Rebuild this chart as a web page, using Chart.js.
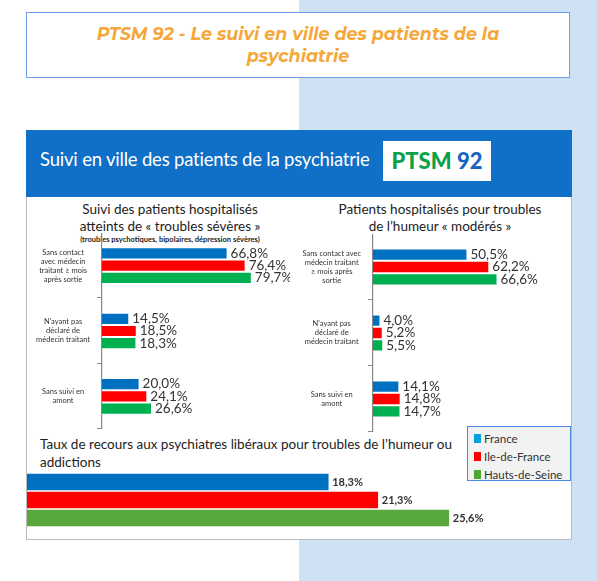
<!DOCTYPE html>
<html><head><meta charset="utf-8">
<script src="https://cdn.jsdelivr.net/npm/chart.js@4"></script>
<style>
body{margin:0;width:597px;height:581px;position:relative;overflow:hidden;background:#fff;font-family:Lato,"Open Sans",sans-serif}
.abs{position:absolute}
</style></head><body>
<div class="abs" style="left:299px;top:0;width:298px;height:581px;background:#cfe2f3"></div>
<div class="abs" style="left:26px;top:12px;width:544px;height:66px;background:#fff;border:1.5px solid #6d9eeb;text-align:center;color:#f6a73a;font-weight:bold;font-style:italic;font-size:17.5px;line-height:22px;padding-top:10px;box-sizing:border-box;font-family:Montserrat,'Open Sans',sans-serif">PTSM 92 - Le suivi en ville des patients de la<br>psychiatrie</div>
<div class="abs" style="left:26px;top:130px;width:546px;height:410px;background:#fff;border:1px solid #bbb;box-sizing:border-box"></div>
<div class="abs" style="left:26px;top:130px;width:546px;height:67px;background:#106fc6"></div>
<div class="abs" style="left:40px;top:148px;color:#fff;font-size:18.5px;letter-spacing:-0.2px">Suivi en ville des patients de la psychiatrie</div>
<div class="abs" style="left:383px;top:141px;width:108px;height:40px;background:#fff;font-weight:900;font-size:22px;line-height:40px;text-align:center"><span style="color:#0aa14a">PTSM</span> <span style="color:#1565c0">92</span></div>
<div class="abs" style="left:40px;top:201px;width:260px;text-align:center;font-size:13.5px;line-height:17px;color:#222">Suivi des patients hospitalisés<br>atteints de « troubles sévères »<div style="font-size:7.5px;line-height:10px;font-weight:bold">(troubles psychotiques, bipolaires, dépression sévères)</div></div>
<div class="abs" style="left:310px;top:201px;width:260px;text-align:center;font-size:13.5px;line-height:17px;color:#222">Patients hospitalisés pour troubles<br>de l’humeur « modérés »</div>
<div class="abs" style="left:40px;top:435px;width:430px;font-size:13.5px;line-height:18px;color:#222">Taux de recours aux psychiatres libéraux pour troubles de l’humeur ou addictions</div>
<div class="abs" style="left:467px;top:426px;width:104px;height:55px;background:#f2f2f2;border:1px solid #4a86e8;box-sizing:border-box;font-size:11.5px;color:#333;padding:3px 0 0 6px;line-height:18px">
<div><span style="display:inline-block;width:7px;height:9px;background:#00a0e3;margin-right:3px"></span>France</div>
<div><span style="display:inline-block;width:7px;height:9px;background:#f00;margin-right:3px"></span>Ile-de-France</div>
<div><span style="display:inline-block;width:7px;height:9px;background:#4ea72e;margin-right:3px"></span>Hauts-de-Seine</div></div>
<div class="abs" style="left:30px;top:233px;width:260px;height:196px"><canvas id="c1"></canvas></div>
<div class="abs" style="left:300px;top:234px;width:260px;height:198px"><canvas id="c2"></canvas></div>
<div class="abs" style="left:27px;top:470px;width:545px;height:60px"><canvas id="c3"></canvas></div>
<script>
const cats = [["Sans contact","avec médecin","traitant ≥ mois","après sortie"],["N'ayant pas","déclaré de","médecin traitant"],["Sans suivi en","amont"]];
const cats2 = [["Sans contact avec","médecin traitant","≥ mois après","sortie"],["N'ayant pas","déclaré de","médecin traitant"],["Sans suivi en","amont"]];
const series = ["France","Ile-de-France","Hauts-de-Seine"];
const severe_france=[66.8,14.5,20.0], severe_idf=[76.4,18.5,24.1], severe_hds=[79.7,18.3,26.6];
const mod_france=[50.5,4.0,14.1], mod_idf=[62.2,5.2,14.8], mod_hds=[66.6,5.5,14.7];
const recours=[18.3,21.3,25.6];
const cols=["#0070c0","#ff0000","#00b050"];
const fmt=v=>v.toFixed(1).replace('.',',')+'%';
const lbl={id:'lbl',afterDatasetsDraw(ch,a,o){const c=ch.ctx;c.save();
 if(o.axis){const ca=ch.chartArea,n=ch.data.labels.length;c.strokeStyle='#888';c.lineWidth=1;c.beginPath();
  c.moveTo(ca.left-0.5,ca.top);c.lineTo(ca.left-0.5,ca.bottom);
  for(let k=1;k<=n;k++){const yy=Math.round(ca.top+(ca.bottom-ca.top)*k/n)-0.5;c.moveTo(ca.left-5,yy);c.lineTo(ca.left,yy);}
  c.stroke();}
 c.fillStyle='#333';c.font=o.font;c.textBaseline='middle';
 ch.data.datasets.forEach((d,i)=>ch.getDatasetMeta(i).data.forEach((b,j)=>{c.fillText(fmt(d.data[j]),b.x+3,b.y);}));c.restore();}};
function mk(id,labels,data,w,max,cp,font,greens,grid,pad){
 return new Chart(document.getElementById(id),{type:'bar',plugins:[lbl],
 data:{labels,datasets:data.map((d,i)=>({label:series[i],data:d,backgroundColor:greens&&i==2?greens:cols[i],borderColor:'rgba(255,255,255,0.6)',borderWidth:1,barPercentage:1,categoryPercentage:cp}))},
 options:{indexAxis:'y',responsive:true,maintainAspectRatio:false,animation:false,layout:{padding:pad},
 plugins:{legend:{display:false},tooltip:{enabled:false},lbl:{font:font,axis:grid}},
 scales:{x:{display:false,min:0,max:max},y:{display:grid,grid:{display:false},
 ticks:{color:'#333',font:{size:7.5,family:'Lato'},padding:4,crossAlign:'center'},afterFit:s=>{s.width=w;s.paddingTop=0;s.paddingBottom=0;}}}}});}
mk('c1',cats,[severe_france,severe_idf,severe_hds],72,100,0.56,'13.5px Lato',null,true,0);
mk('c2',cats2,[mod_france,mod_idf,mod_hds],73,100,0.56,'13.5px Lato',null,true,0);
mk('c3',[''],recours.map(v=>[v]),0,33,1,'bold 11px Lato','#58a83c',false,{top:3,bottom:3});
</script></body></html>
